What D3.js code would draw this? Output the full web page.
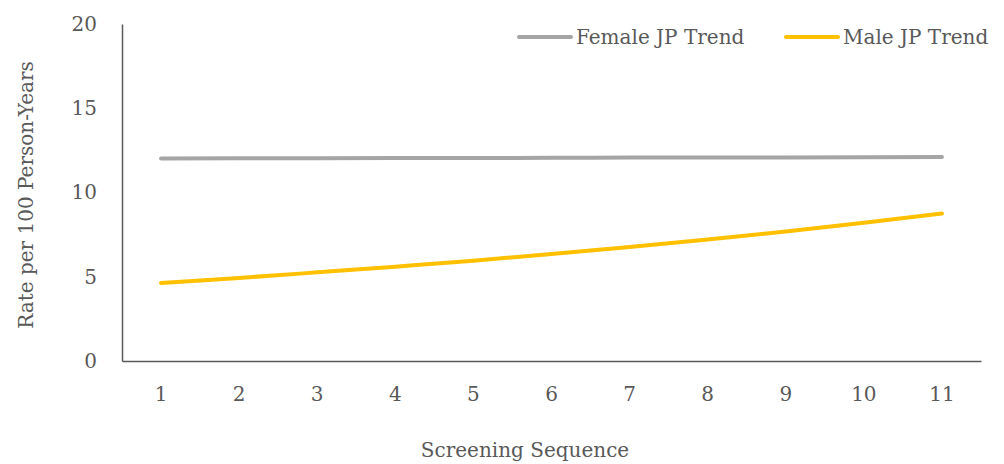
<!DOCTYPE html>
<html>
<head>
<meta charset="utf-8">
<script src="https://cdn.jsdelivr.net/npm/d3@7.9.0/dist/d3.min.js"></script>
<style>
  body { margin: 0; background: #fff; }
  svg text { font-family: "DejaVu Serif", "Liberation Serif", serif; fill: #595959; }
</style>
</head>
<body>
<svg id="chart" width="1004" height="464"></svg>
<script>
const sequence = ['1', '2', '3', '4', '5', '6', '7', '8', '9', '10', '11'];
const femaleTrend = [12.02, 12.03, 12.04, 12.05, 12.05, 12.06, 12.07, 12.08, 12.08, 12.09, 12.10];
const maleTrend = [4.63, 4.93, 5.26, 5.60, 5.95, 6.35, 6.77, 7.21, 7.69, 8.20, 8.75];
const yTicks = [0, 5, 10, 15, 20];

const series = [
    { name: 'Female JP Trend', values: femaleTrend, color: '#A5A5A5' },
    { name: 'Male JP Trend', values: maleTrend, color: '#FFC000' },
];

const svg = d3.select('#chart');
const plotLeft = 122, plotRight = 981, plotTop = 24, plotBottom = 361;
const fontSize = 20;

let x = d3.scaleBand().domain(sequence).range([plotLeft, plotRight]);
let y = d3.scaleLinear().domain([0, 20]).range([plotBottom, plotTop]);

// y axis
let yAxis = svg.append('g')
    .attr('transform', `translate(${plotLeft},0)`)
    .call(d3.axisLeft(y).tickValues(yTicks).tickSize(0).tickPadding(25));
yAxis.select('.domain').attr('stroke', '#595959').attr('stroke-width', 1.5);

// x axis
let xAxis = svg.append('g')
    .attr('transform', `translate(0,${plotBottom})`)
    .call(d3.axisBottom(x).tickSize(0).tickPadding(26));
xAxis.select('.domain').attr('stroke', '#595959').attr('stroke-width', 1.5);

svg.selectAll('.tick text')
    .attr('fill', '#595959')
    .attr('font-family', null)
    .attr('font-size', fontSize);

let line = d3.line()
    .x((d, i) => x(sequence[i]) + x.bandwidth() / 2)
    .y((d) => y(d))
    .curve(d3.curveMonotoneX);

series.forEach((s) => {
    svg.append('path')
        .datum(s.values)
        .attr('d', line)
        .attr('fill', 'none')
        .attr('stroke', s.color)
        .attr('stroke-width', 4)
        .attr('stroke-linecap', 'round');
});

// axis titles
svg.append('text')
    .attr('x', 525).attr('y', 457)
    .attr('text-anchor', 'middle')
    .attr('font-size', fontSize)
    .text('Screening Sequence');

svg.append('text')
    .attr('transform', 'translate(33,195) rotate(-90)')
    .attr('text-anchor', 'middle')
    .attr('font-size', fontSize)
    .text('Rate per 100 Person-Years');

// legend
const legendX = [519, 786];
series.forEach((s, i) => {
    let g = svg.append('g').attr('transform', `translate(${legendX[i]},37)`);
    g.append('line')
        .attr('x1', 0).attr('x2', 52)
        .attr('stroke', s.color)
        .attr('stroke-width', 4)
        .attr('stroke-linecap', 'round');
    g.append('text')
        .attr('x', 57).attr('y', 7)
        .attr('font-size', fontSize)
        .text(s.name);
});
</script>
</body>
</html>
